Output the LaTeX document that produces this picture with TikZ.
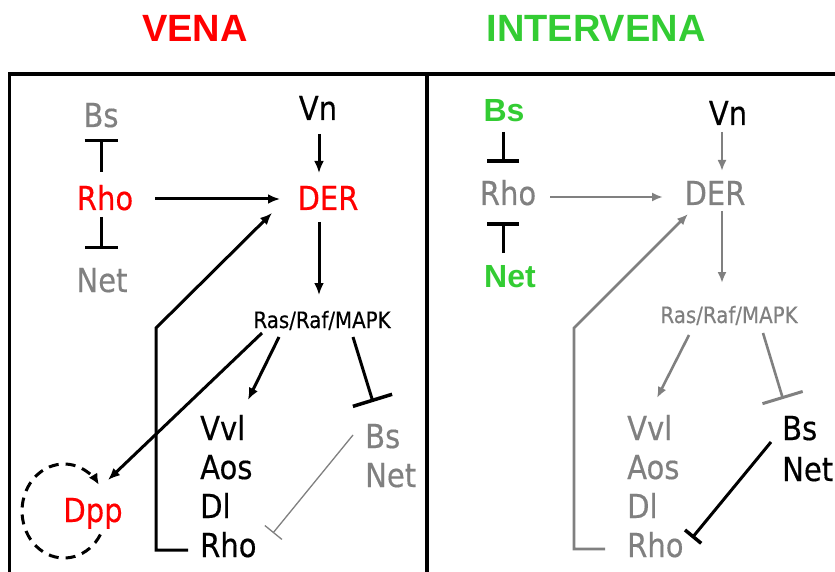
\documentclass[tikz,border=0pt]{standalone}
\usepackage{fontspec}
\setmainfont{DejaVu Sans}[FakeStretch=0.88,FakeBold=0.35]
\newfontfamily\arialfont{Liberation Sans}
\usetikzlibrary{arrows.meta,calc}
\definecolor{vred}{RGB}{255,0,0}
\definecolor{vgray}{RGB}{128,128,128}
\definecolor{vgreen}{RGB}{51,204,51}
\begin{document}
\begin{tikzpicture}[x=1pt,y=-1pt,
 lab/.style={font=\fontsize{33}{36}\selectfont, inner sep=0pt, anchor=base},
 labw/.style={lab, anchor=base west},
 smalllab/.style={font=\fontsize{22.5}{24}\selectfont, inner sep=0pt, anchor=base},
 boldlab/.style={font=\arialfont\bfseries\fontsize{32}{34}\selectfont, inner sep=0pt, anchor=base},
 headlab/.style={font=\arialfont\bfseries\fontsize{38}{40}\selectfont, inner sep=0pt, anchor=base},
 arr/.style={-{Latex[length=12pt,width=10pt]}, line width=3pt},
 garr/.style={-{Latex[length=11pt,width=9pt]}, line width=2.6pt, vgray},
 inh/.style={-{Bar[width=#1,line width=3.5pt]}, line width=3pt},
 ginh/.style={-{Bar[width=#1,line width=3pt]}, line width=2.6pt, vgray},
 thininh/.style={-{Bar[width=#1,line width=1.3pt]}, line width=1.3pt, vgray},
 boxline/.style={line width=3.5pt},
 loopdash/.style={dash pattern=on 10pt off 7pt, line width=3pt, -{Latex[length=11pt,width=10pt]}}
]
\useasboundingbox (0,0) rectangle (835,572);
\clip (0,0) rectangle (835,572);
\fill[white] (0,0) rectangle (835,572);

% titles
\node[headlab, vred] (tvena) at (195,42) {VENA};
\node[headlab, vgreen] (tinter) at (596,42) {INTERVENA};

% frame
\draw[boxline] (9.5,74) rectangle (860,620);
\draw[line width=4pt] (427,74) -- (427,620);

% ---------- left panel (VENA)
\node[lab, vgray] (bsL) at (101,127) {Bs};
\node[lab, vred] (rhoL) at (105,210) {Rho};
\node[lab, vgray] (netL) at (102,292) {Net};
\node[lab] (vnL) at (318,120) {Vn};
\node[lab, vred] (derL) at (328,210) {DER};
\node[smalllab] (rasL) at (322,328) {Ras/Raf/MAPK};
\node[labw] (vvlL) at (200,440) {Vvl};
\node[labw] (aosL) at (200,479) {Aos};
\node[labw] (dlL) at (200,518) {Dl};
\node[labw] (rhobL) at (200,557) {Rho};
\node[labw, vgray] (bsbL) at (365,448) {Bs};
\node[labw, vgray] (netbL) at (365,487) {Net};
\node[lab, vred] (dppL) at (93,522) {Dpp};

\draw[inh=33pt] ($(rhoL.base)+(-4,-38)$) -- ($(bsL.base)+(0,12)$);
\draw[inh=33pt] ($(rhoL.base)+(-4,7)$) -- ($(netL.base)+(-1,-43)$);
\draw[arr] ($(vnL.base)+(1,14)$) -- ($(derL.base)+(-9,-37)$);
\draw[arr] ($(rhoL.base)+(50,-11)$) -- ($(derL.base)+(-48,-11)$);
\draw[arr] ($(derL.base)+(-9,12)$) -- ($(rasL.base)+(-3,-33)$);
\draw[arr] ($(rhobL.base west)+(-12,-7)$) -- ++(-32,0) -- ++(0,-222) -- ($(derL.base)+(-56,3)$);
\draw[arr] ($(rasL.base)+(-60,5)$) -- ($(dppL.base)+(15,-42)$);
\draw[arr] ($(rasL.base)+(-43,9)$) -- ($(vvlL.base west)+(48,-40)$);
\draw[inh=41pt] ($(rasL.base)+(31,9)$) -- ($(bsbL.base west)+(8,-46)$);
\draw[thininh=22pt] ($(bsbL.base west)+(-12,-13)$) -- ($(rhobL.base west)+(73,-24)$);
\draw[loopdash] ($(dppL.base)+(7.4,12.5)$) arc[start angle=30,end angle=326,x radius=42,y radius=47];

% ---------- right panel (INTERVENA)
\node[boldlab, vgreen] (bsR) at (504,122) {Bs};
\node[lab, vgray] (rhoR) at (508,205) {Rho};
\node[boldlab, vgreen] (netR) at (510,287) {Net};
\node[lab] (vnR) at (728,125) {Vn};
\node[lab, vgray] (derR) at (715,205) {DER};
\node[smalllab, vgray] (rasR) at (729,323) {Ras/Raf/MAPK};
\node[labw, vgray] (vvlR) at (627,440) {Vvl};
\node[labw, vgray] (aosR) at (627,479) {Aos};
\node[labw, vgray] (dlR) at (627,518) {Dl};
\node[labw, vgray] (rhobR) at (627,557) {Rho};
\node[labw] (bsbR) at (782,440) {Bs};
\node[labw] (netbR) at (782,481) {Net};

\draw[inh=32pt] ($(bsR.base)+(-1,10)$) -- ($(rhoR.base)+(-5,-42)$);
\draw[inh=32pt] ($(netR.base)+(-7,-34)$) -- ($(rhoR.base)+(-5,17)$);
\draw[garr] ($(vnR.base)+(-6,7)$) -- ($(derR.base)+(7,-34)$);
\draw[garr] ($(rhoR.base)+(42,-8)$) -- ($(derR.base)+(-52,-8)$);
\draw[garr] ($(derR.base)+(7,6)$) -- ($(rasR.base)+(-7,-40)$);
\draw[garr] ($(rhobR.base west)+(-22,-8)$) -- ++(-31,0) -- ++(0,-221) -- ($(derR.base)+(-27,9)$);
\draw[garr] ($(rasR.base)+(-40,12)$) -- ($(vvlR.base west)+(30,-42)$);
\draw[ginh=42pt] ($(rasR.base)+(34,10)$) -- ($(bsbR.base west)+(1,-41)$);
\draw[inh=21pt] ($(bsbR.base west)+(-11,2)$) -- ($(rhobR.base west)+(65,-19)$);
\end{tikzpicture}
\end{document}
